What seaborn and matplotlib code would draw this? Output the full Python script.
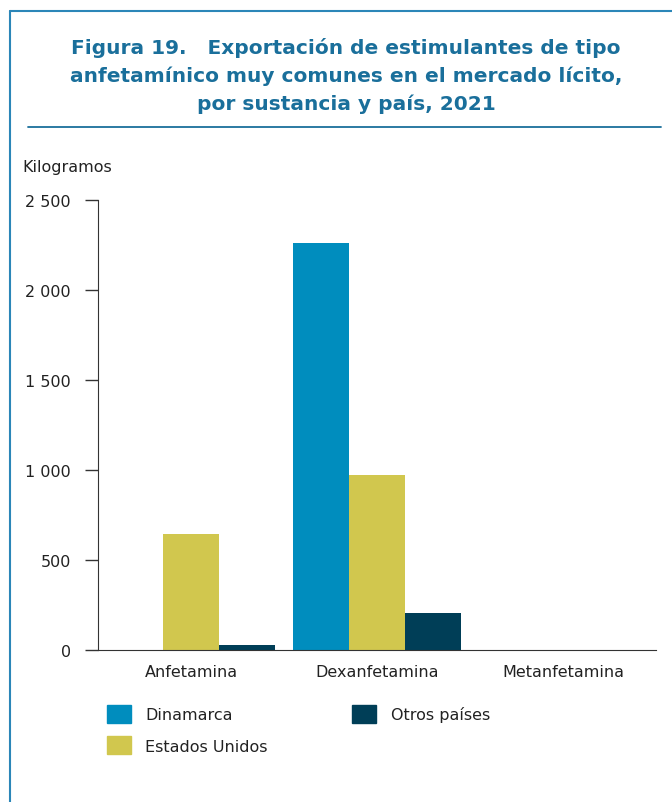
import pandas as pd
import matplotlib.pyplot as plt
import matplotlib.ticker as mticker
from matplotlib.lines import Line2D
import seaborn as sns

# Data (kilograms, 2021)
substances = ['Anfetamina', 'Dexanfetamina', 'Metanfetamina']
countries = ['Dinamarca', 'Estados Unidos', 'Otros países']
dinamarca = [0, 2260, 0]
estados_unidos = [644, 972, 0]
otros_paises = [27, 205, 0]
colors = ['#008DBE', '#D1C74E', '#003E57']

rows = []
for name, vals in zip(countries, [dinamarca, estados_unidos, otros_paises]):
    for s, v in zip(substances, vals):
        rows.append({'sustancia': s, 'pais': name, 'kg': v})
data = pd.DataFrame(rows)

sns.set_style('white')
plt.rcParams['font.family'] = ['DejaVu Sans']

fig = plt.figure(figsize=(6.72, 8.03), dpi=100)
ax = fig.add_axes([0.1458, 0.1893, 0.976 - 0.1458, 0.7497 - 0.1893])

sns.barplot(data=data, x='sustancia', y='kg', hue='pais', hue_order=countries,
            palette=colors, width=0.9, saturation=1, linewidth=0, ax=ax)

ax.set_ylim(0, 2500)
ax.set_xlim(-0.5, 2.5)
ax.yaxis.set_major_locator(mticker.MultipleLocator(500))
ax.yaxis.set_major_formatter(mticker.FuncFormatter(lambda v, p: f'{int(v):,}'.replace(',', ' ')))
ax.set_xticks([0, 1, 2])
ax.set_xticks([-0.5, 0.5, 1.5, 2.5], minor=True)
ax.tick_params(axis='x', which='major', length=0, pad=10, labelsize=11.5, colors='#222222')
ax.tick_params(axis='x', which='minor', length=7.5, width=1, direction='out', color='#333333')
ax.tick_params(axis='y', length=9.5, width=1, direction='out', color='#333333',
               labelsize=11.5, labelcolor='#222222', pad=10, left=True)
for side in ['top', 'right']:
    ax.spines[side].set_visible(False)
ax.spines['left'].set_color('#333333')
ax.spines['bottom'].set_color('#333333')
ax.set_xlabel('')
ax.set_ylabel('')

# legend
ax.get_legend().remove()
handles = [plt.Rectangle((0, 0), 1, 1, color=c) for c in colors]
fig.legend(handles, countries, loc='upper left', bbox_to_anchor=(0.159, 0.121),
           ncol=2, frameon=False, fontsize=11.5, handlelength=1.5, handleheight=1.35,
           handletextpad=0.9, columnspacing=5.3, labelspacing=0.85,
           labelcolor='#222222', borderpad=0, borderaxespad=0)

fig.text(0.033, 0.792, 'Kilogramos', fontsize=11.5, color='#222222', va='center')

teal = '#1A6F9B'
fig.text(0.515, 0.905,
         'Figura 19.   Exportación de estimulantes de tipo\n'
         'anfetamínico muy comunes en el mercado lícito,\n'
         'por sustancia y país, 2021',
         ha='center', va='center', fontsize=14.5, fontweight='bold', color=teal,
         linespacing=1.55)

# frame lines
fig.add_artist(Line2D([0.042, 0.983], [0.841, 0.841], color=teal, lw=1.3))
fig.add_artist(Line2D([0.015, 1.0], [0.985, 0.985], color='#2B86B8', lw=1.5))
fig.add_artist(Line2D([0.015, 0.015], [0.0, 0.985], color='#2B86B8', lw=1.5))

plt.savefig('out.png', dpi=100)
